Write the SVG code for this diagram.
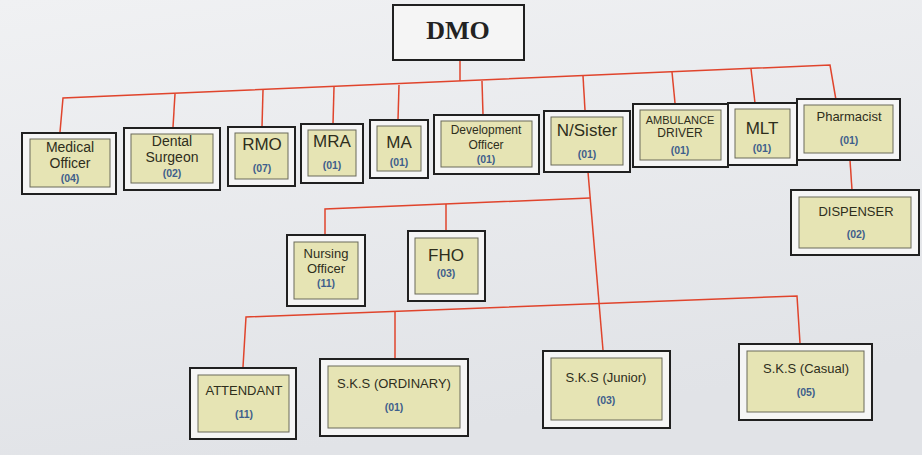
<svg xmlns="http://www.w3.org/2000/svg" width="922" height="455" viewBox="0 0 922 455">
<defs>
<linearGradient id="bg" x1="0" y1="0" x2="0.3" y2="1">
<stop offset="0" stop-color="#f0f1f3"/>
<stop offset="1" stop-color="#e1e3e7"/>
</linearGradient>
</defs>
<style>
.o{fill:#f5f5f5;stroke:#202020;stroke-width:2}
.i{fill:#e6e4b4;stroke:#6a6a5a;stroke-width:1}
.t{font-family:"Liberation Sans",Arial,sans-serif;fill:#2e2e1c;text-anchor:middle}
.n{font-family:"Liberation Sans",Arial,sans-serif;fill:#3f5f8c;font-weight:bold;font-size:10.5px;text-anchor:middle}
.c line,.c polyline{stroke:#e0442c;stroke-width:1.5;fill:none}
</style>
<rect width="922" height="455" fill="url(#bg)"/>
<g class="c" id="connectors">
<line x1="460" y1="60" x2="460" y2="81"/>
<polyline points="60,132 63,98 830,65 836,100"/>
<line x1="175" y1="94" x2="173" y2="127"/>
<line x1="263" y1="90" x2="262" y2="127"/>
<line x1="334" y1="87" x2="333" y2="124"/>
<line x1="399" y1="85" x2="398" y2="120"/>
<line x1="482" y1="81" x2="483" y2="115"/>
<line x1="583" y1="76" x2="585" y2="110"/>
<line x1="672" y1="72" x2="675" y2="103"/>
<line x1="751" y1="69" x2="755" y2="103"/>
<line x1="850" y1="160" x2="852" y2="190"/>
<line x1="588" y1="172" x2="603" y2="350"/>
<polyline points="325,235 325,209 590,198"/>
<line x1="446" y1="204" x2="446" y2="230"/>
<polyline points="243,367 246,317 797,296 800,343"/>
<line x1="395" y1="311" x2="395" y2="358"/>
</g>
<g id="dmo"><rect x="393" y="5" width="131" height="55" class="o"/><text x="458" y="39" font-family="Liberation Serif,serif" font-weight="bold" font-size="26" fill="#222" text-anchor="middle">DMO</text></g>
<g id="medical-officer"><rect x="22" y="133" width="94" height="61" class="o"/><rect x="30" y="139" width="80" height="48" class="i"/><text class="t" font-size="14" x="70" y="152">Medical</text><text class="t" font-size="14" x="70" y="168">Officer</text><text class="n" x="70" y="182">(04)</text></g>
<g id="dental-surgeon"><rect x="124" y="128" width="96" height="62" class="o"/><rect x="131" y="134" width="82" height="49" class="i"/><text class="t" font-size="14" x="172" y="146">Dental</text><text class="t" font-size="14" x="172" y="162">Surgeon</text><text class="n" x="172" y="177">(02)</text></g>
<g id="rmo"><rect x="228" y="127" width="67" height="59" class="o"/><rect x="235" y="133" width="53" height="46" class="i"/><text class="t" font-size="17" x="262" y="150">RMO</text><text class="n" x="262" y="172">(07)</text></g>
<g id="mra"><rect x="301" y="124" width="62" height="59" class="o"/><rect x="308" y="130" width="48" height="46" class="i"/><text class="t" font-size="17" x="332" y="147">MRA</text><text class="n" x="332" y="169">(01)</text></g>
<g id="ma"><rect x="370" y="120" width="58" height="58" class="o"/><rect x="377" y="126" width="44" height="45" class="i"/><text class="t" font-size="17" x="399" y="148">MA</text><text class="n" x="399" y="166">(01)</text></g>
<g id="development-officer"><rect x="434" y="115" width="105" height="59" class="o"/><rect x="441" y="121" width="91" height="46" class="i"/><text class="t" font-size="12" x="486" y="134">Development</text><text class="t" font-size="12" x="486" y="149">Officer</text><text class="n" x="486" y="163">(01)</text></g>
<g id="n-sister"><rect x="544" y="111" width="86" height="61" class="o"/><rect x="551" y="117" width="72" height="48" class="i"/><text class="t" font-size="17" x="587" y="136">N/Sister</text><text class="n" x="587" y="158">(01)</text></g>
<g id="ambulance-driver"><rect x="633" y="104" width="95" height="63" class="o"/><rect x="640" y="110" width="81" height="50" class="i"/><text class="t" font-size="11" x="680" y="124">AMBULANCE</text><text class="t" font-size="12" x="680" y="137">DRIVER</text><text class="n" x="680" y="154">(01)</text></g>
<g id="mlt"><rect x="728" y="103" width="69" height="62" class="o"/><rect x="735" y="109" width="55" height="49" class="i"/><text class="t" font-size="17" x="762" y="134">MLT</text><text class="n" x="762" y="152">(01)</text></g>
<g id="pharmacist"><rect x="797" y="99" width="103" height="61" class="o"/><rect x="804" y="105" width="89" height="48" class="i"/><text class="t" font-size="13" x="849" y="121">Pharmacist</text><text class="n" x="849" y="144">(01)</text></g>
<g id="dispenser"><rect x="791" y="190" width="128" height="65" class="o"/><rect x="799" y="197" width="112" height="51" class="i"/><text class="t" font-size="13" x="856" y="216">DISPENSER</text><text class="n" x="856" y="238">(02)</text></g>
<g id="nursing-officer"><rect x="287" y="235" width="78" height="71" class="o"/><rect x="294" y="242" width="64" height="57" class="i"/><text class="t" font-size="13" x="326" y="258">Nursing</text><text class="t" font-size="13" x="326" y="273">Officer</text><text class="n" x="326" y="287">(11)</text></g>
<g id="fho"><rect x="408" y="231" width="77" height="70" class="o"/><rect x="415" y="238" width="63" height="56" class="i"/><text class="t" font-size="17" x="446" y="261">FHO</text><text class="n" x="446" y="277">(03)</text></g>
<g id="attendant"><rect x="190" y="368" width="106" height="71" class="o"/><rect x="198" y="375" width="91" height="57" class="i"/><text class="t" font-size="13" x="244" y="395">ATTENDANT</text><text class="n" x="244" y="418">(11)</text></g>
<g id="sks-ordinary"><rect x="320" y="359" width="148" height="77" class="o"/><rect x="328" y="366" width="132" height="62" class="i"/><text class="t" font-size="13" x="394" y="388">S.K.S (ORDINARY)</text><text class="n" x="394" y="411">(01)</text></g>
<g id="sks-junior"><rect x="543" y="351" width="127" height="77" class="o"/><rect x="551" y="358" width="111" height="62" class="i"/><text class="t" font-size="13" x="606" y="382">S.K.S (Junior)</text><text class="n" x="606" y="404">(03)</text></g>
<g id="sks-casual"><rect x="739" y="344" width="133" height="76" class="o"/><rect x="747" y="351" width="117" height="61" class="i"/><text class="t" font-size="13" x="806" y="373">S.K.S (Casual)</text><text class="n" x="806" y="396">(05)</text></g>
</svg>
